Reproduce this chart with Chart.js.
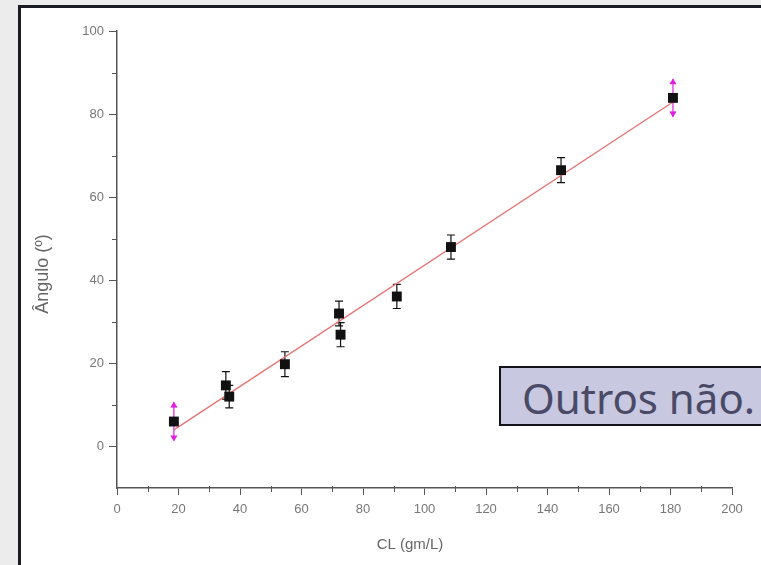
<!DOCTYPE html>
<html>
<head>
<meta charset="utf-8">
<script src="https://cdn.jsdelivr.net/npm/chart.js@4.4.1/dist/chart.umd.min.js"></script>
<style>
  html, body { margin: 0; padding: 0; width: 761px; height: 565px; overflow: hidden; background: #ececec; }
  #frame { position: absolute; left: 18px; top: 5px; width: 800px; height: 600px; background: #fff; border-left: 3px solid #1b1b26; border-top: 3px solid #1b1b26; }
  #angleChart { position: absolute; left: 0; top: 0; }
  #note { position: absolute; left: 499px; top: 366px; width: 290px; height: 60px; background: #c8c8e0; border: 2px solid #121218;
          font-family: "Noto Sans", sans-serif; font-size: 42px; line-height: 60px; color: #4a4a66; padding-left: 21px; box-sizing: border-box; white-space: nowrap; }
</style>
</head>
<body>
<div id="frame"></div>
<canvas id="angleChart" width="761" height="565"></canvas>
<div id="note">Outros não.</div>
<script>
// measured points with black error bars
var mainX = [35.4, 36.5, 54.6, 72.2, 72.7, 91.0, 108.6, 144.4];
var mainY = [14.7, 12.0, 19.8, 32.0, 26.9, 36.1, 48.0, 66.5];
var mainErr = [3.3, 2.7, 3.0, 3.0, 2.9, 2.9, 2.9, 3.0];

// the two end points (magenta error marks)
var endX = [18.5, 180.8];
var endY = [6.0, 83.9];
var endErr = [3.6, 3.5];

// linear fit
var fitX = [18.5, 180.8];
var fitY = [4.0, 82.9];

// labelled ticks
var xTicks = [0, 20, 40, 60, 80, 100, 120, 140, 160, 180, 200];
var yTicks = [0, 20, 40, 60, 80, 100];

var xTitle = 'CL (gm/L)';
var yTitle = 'Ângulo (º)';

function toPoints(xs, ys) {
    return xs.map(function (x, i) { return { x: x, y: ys[i] }; });
}

var axisColor = '#555555';
var labelColor = '#777777';
var fontFamily = 'Liberation Sans, Arial, sans-serif';

// error bars drawn under the markers
var errorBars = {
    id: 'errorBars',
    beforeDatasetsDraw: function (chart) {
        var ctx = chart.ctx;
        var xs = chart.scales.x, ys = chart.scales.y;
        ctx.save();
        ctx.lineWidth = 1.2;

        ctx.strokeStyle = '#111111';
        mainX.forEach(function (x, i) {
            var px = xs.getPixelForValue(x);
            var top = ys.getPixelForValue(mainY[i] + mainErr[i]);
            var bot = ys.getPixelForValue(mainY[i] - mainErr[i]);
            ctx.beginPath();
            ctx.moveTo(px, top); ctx.lineTo(px, bot);
            ctx.moveTo(px - 4, top); ctx.lineTo(px + 4, top);
            ctx.moveTo(px - 4, bot); ctx.lineTo(px + 4, bot);
            ctx.stroke();
        });

        ctx.strokeStyle = '#e020e0';
        ctx.fillStyle = '#e020e0';
        endX.forEach(function (x, i) {
            var px = xs.getPixelForValue(x);
            var top = ys.getPixelForValue(endY[i] + endErr[i]);
            var bot = ys.getPixelForValue(endY[i] - endErr[i]);
            ctx.beginPath();
            ctx.moveTo(px, top - 4); ctx.lineTo(px, bot + 4);
            ctx.moveTo(px - 3, top); ctx.lineTo(px + 3, top);
            ctx.moveTo(px - 3, bot); ctx.lineTo(px + 3, bot);
            ctx.stroke();
            ctx.beginPath();
            ctx.moveTo(px, top - 5); ctx.lineTo(px - 3.5, top + 1); ctx.lineTo(px + 3.5, top + 1);
            ctx.closePath(); ctx.fill();
            ctx.beginPath();
            ctx.moveTo(px, bot + 5); ctx.lineTo(px - 3.5, bot - 1); ctx.lineTo(px + 3.5, bot - 1);
            ctx.closePath(); ctx.fill();
        });
        ctx.restore();
    }
};

// minor tick marks every 10 units (major ones come from the grid)
var minorTicks = {
    id: 'minorTicks',
    afterDraw: function (chart) {
        var ctx = chart.ctx;
        var xs = chart.scales.x, ys = chart.scales.y;
        ctx.save();
        ctx.strokeStyle = axisColor;
        ctx.lineWidth = 1;
        ctx.beginPath();
        xs.ticks.forEach(function (t) {
            if (t.value % 20 !== 0) {
                var px = Math.round(xs.getPixelForValue(t.value)) + 0.5;
                ctx.moveTo(px, xs.top - 2); ctx.lineTo(px, xs.top + 4);
            }
        });
        ys.ticks.forEach(function (t) {
            if (t.value % 20 !== 0 && t.value > ys.min) {
                var py = Math.round(ys.getPixelForValue(t.value)) + 0.5;
                ctx.moveTo(ys.right - 5, py); ctx.lineTo(ys.right, py);
            }
        });
        ctx.stroke();
        ctx.restore();
    }
};

// axis titles, placed a bit off-centre like the original Origin layout
var axisTitles = {
    id: 'axisTitles',
    afterDraw: function (chart) {
        var ctx = chart.ctx;
        var area = chart.chartArea;
        ctx.save();
        ctx.fillStyle = '#666666';
        ctx.textAlign = 'center';
        ctx.textBaseline = 'middle';

        ctx.font = '15px ' + fontFamily;
        ctx.fillText(xTitle, area.left + 293, area.bottom + 57);

        ctx.translate(area.left - 74, area.top + 243);
        ctx.rotate(-Math.PI / 2);
        ctx.font = '18px ' + fontFamily;
        ctx.fillText(yTitle, 0, 0);
        ctx.restore();
    }
};

var ctx = document.getElementById('angleChart').getContext('2d');

new Chart(ctx, {
    type: 'scatter',
    data: {
        datasets: [
            {
                label: 'pontos',
                data: toPoints(mainX, mainY).concat(toPoints(endX, endY)),
                pointStyle: 'rect',
                pointRadius: 7,
                pointBackgroundColor: '#111111',
                pointBorderColor: '#111111',
                pointBorderWidth: 0
            },
            {
                label: 'ajuste',
                type: 'line',
                data: toPoints(fitX, fitY),
                borderColor: '#e67272',
                borderWidth: 1.3,
                pointRadius: 0,
                fill: false
            }
        ]
    },
    options: {
        responsive: false,
        animation: false,
        layout: { padding: { left: 22, top: 31, right: 29, bottom: 0 } },
        plugins: {
            legend: { display: false },
            tooltip: { enabled: false }
        },
        scales: {
            x: {
                type: 'linear',
                min: 0,
                max: 200,
                afterFit: function (s) { s.height = 77; },
                border: { display: true, color: axisColor, width: 1.5 },
                grid: {
                    drawOnChartArea: false,
                    tickLength: 7,
                    tickColor: function (c) { return xTicks.indexOf(c.tick.value) >= 0 ? axisColor : 'rgba(0,0,0,0)'; }
                },
                ticks: {
                    stepSize: 10,
                    autoSkip: false,
                    maxRotation: 0,
                    color: labelColor,
                    padding: 7,
                    font: { family: fontFamily, size: 13 },
                    callback: function (v) { return xTicks.indexOf(v) >= 0 ? String(v) : ''; }
                }
            },
            y: {
                type: 'linear',
                min: -10,
                max: 100,
                afterFit: function (s) { s.width = 95; },
                border: { display: true, color: axisColor, width: 1.5 },
                grid: {
                    drawOnChartArea: false,
                    tickLength: 8,
                    tickColor: function (c) { return yTicks.indexOf(c.tick.value) >= 0 ? axisColor : 'rgba(0,0,0,0)'; }
                },
                ticks: {
                    stepSize: 10,
                    autoSkip: false,
                    color: labelColor,
                    padding: 5,
                    font: { family: fontFamily, size: 13 },
                    callback: function (v) { return yTicks.indexOf(v) >= 0 ? String(v) : ''; }
                }
            }
        }
    },
    plugins: [errorBars, minorTicks, axisTitles]
});
</script>
</body>
</html>
